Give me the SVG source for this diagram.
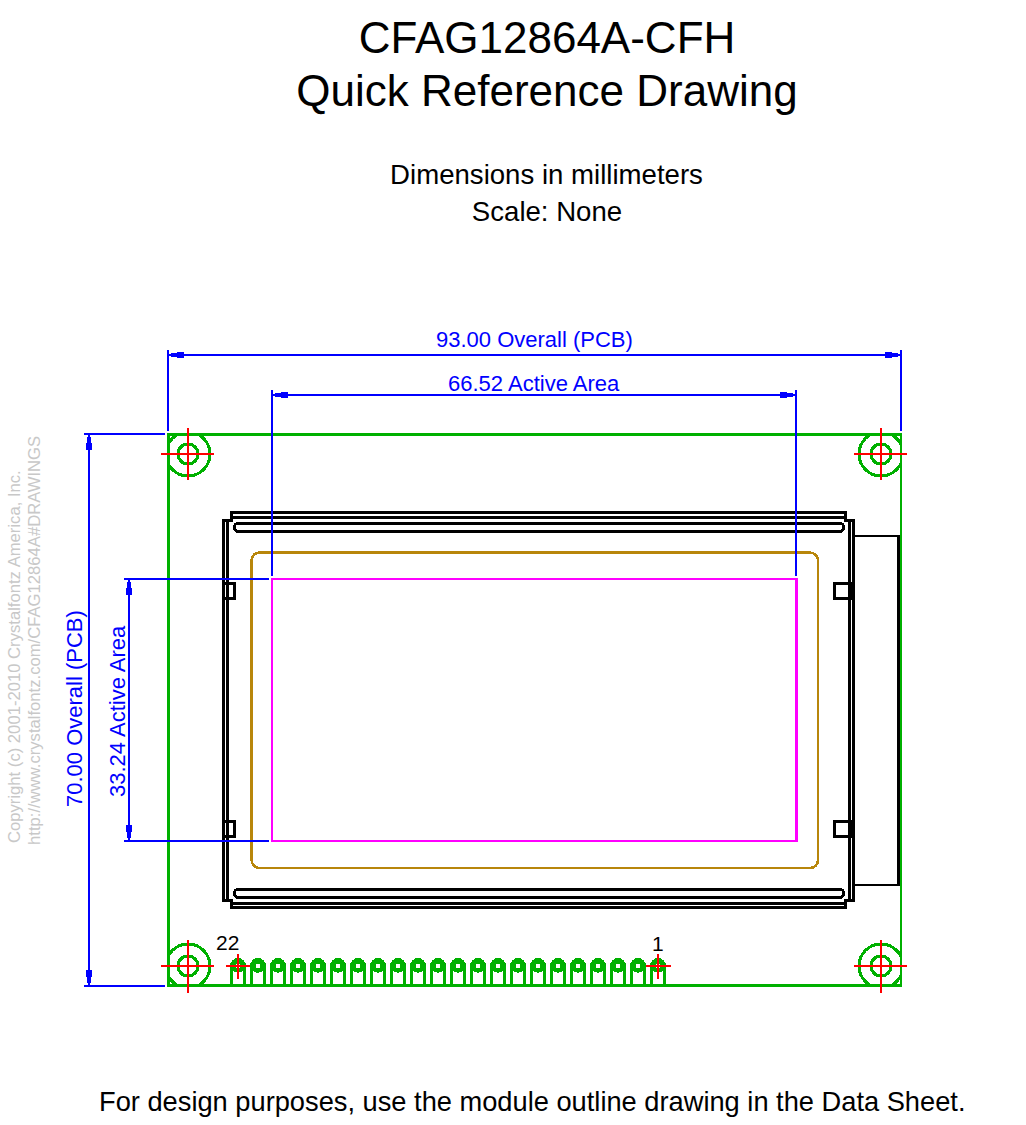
<svg xmlns="http://www.w3.org/2000/svg" width="1026" height="1125" viewBox="0 0 1026 1125">
<style>
text{font-family:"Liberation Sans",Arial,sans-serif;fill:#000}
path,rect,circle,polygon{shape-rendering:crispEdges}
.title{font-size:44px;text-anchor:middle}
.sub{font-size:27.600px;text-anchor:middle}
.dim{font-size:22px;fill:#00f}
.wm{font-size:16.650px;fill:#c8c8c8}
.pin{font-size:21px}
.k{fill:none;stroke:#000;stroke-width:3}
.t{fill:none;stroke:#000;stroke-width:2.500}
.g{fill:none;stroke:#00b000;stroke-width:3}
.r{stroke:#f00;stroke-width:2;fill:none}
.b{stroke:#00f;stroke-width:2;fill:none}
.ring{fill:none;stroke:#00b000;stroke-width:4.500}
</style>
<defs>
<marker id="arrow" markerUnits="userSpaceOnUse" markerWidth="20" markerHeight="10" refX="0" refY="0" orient="auto-start-reverse" viewBox="-20 -5 20 10"><polygon points="-3,-2 -9,-2 -9,-3 -16,-3 -16,3 -9,3 -9,2 -3,2" fill="#00f"/></marker>
<clipPath id="pcb"><rect x="168" y="434" width="733" height="552"/></clipPath>
<g id="hole"><circle cx="0" cy="0" r="10" class="g"/><circle cx="0" cy="0" r="22" class="g"/></g>
<path id="cross" d="M-27,0H26M0,-26V26" class="r"/>
<path id="cross-low" d="M-27,0H26M0,-26V27" class="r"/>
<g id="pad"><path d="M-6.500,19V0A6.500,6.500 0 0 1 6.500,0V19" class="g"/><circle cx="0" cy="0" r="4.500" class="ring"/></g>
</defs>
<g id="title">
<text class="title" x="547" y="53">CFAG12864A-CFH</text>
<text class="title" x="547" y="105.500">Quick Reference Drawing</text>
<text class="sub" x="546.500" y="184">Dimensions in millimeters</text>
<text class="sub" x="547" y="221">Scale: None</text>
</g>
<g id="pcb-outline">
<g clip-path="url(#pcb)">
<use href="#hole" x="188" y="454"/><use href="#hole" x="881" y="454"/><use href="#hole" x="188" y="966"/><use href="#hole" x="881" y="966"/>
</g>
<path class="g" style="stroke-width:2.500" d="M168.500,434.500H901V985.500H168.500Z"/>
</g>
<g id="pins">
<use href="#pad" x="238" y="966"/><use href="#pad" x="258" y="966"/><use href="#pad" x="278" y="966"/><use href="#pad" x="298" y="966"/><use href="#pad" x="318" y="966"/><use href="#pad" x="338" y="966"/><use href="#pad" x="358" y="966"/><use href="#pad" x="378" y="966"/><use href="#pad" x="398" y="966"/><use href="#pad" x="418" y="966"/><use href="#pad" x="438" y="966"/><use href="#pad" x="458" y="966"/><use href="#pad" x="478" y="966"/><use href="#pad" x="498" y="966"/><use href="#pad" x="518" y="966"/><use href="#pad" x="538" y="966"/><use href="#pad" x="558" y="966"/><use href="#pad" x="578" y="966"/><use href="#pad" x="598" y="966"/><use href="#pad" x="618" y="966"/><use href="#pad" x="638" y="966"/><use href="#pad" x="658" y="966"/>
<text class="pin" x="216" y="950">22</text>
<text class="pin" x="652" y="951">1</text>
</g>
<g id="lcd-module">
<path class="k" d="M223.500,520.500H231V512.500H845.500V520.500H853.500V900H845.500V907.500H231V900H223.500Z"/>
<path class="k" d="M231,517.500H845.500M231,903.500H845.500M227.500,520.500V900M849.500,520.500V900" style="stroke-width:2.500"/>
<rect class="k" x="234.500" y="523" width="609" height="8.500" rx="4.200"/>
<rect class="k" x="234.500" y="889" width="609" height="8.500" rx="4.200"/>
<rect class="t" x="224" y="583.500" width="10.500" height="15"/>
<rect class="t" x="224" y="821.500" width="10.500" height="15"/>
<rect class="k" x="834.500" y="583.500" width="17" height="15"/>
<rect class="k" x="834.500" y="821.500" width="17" height="15"/>
<rect class="t" x="853.500" y="536" width="45" height="349"/>
<rect x="251.500" y="552.500" width="566.500" height="315.500" rx="8" fill="none" stroke="#b8860b" stroke-width="2.500"/>
<rect x="272" y="579" width="524.500" height="262" fill="none" stroke="#f0f" stroke-width="2.500"/>
</g>
<g id="crosshairs">
<use href="#cross" x="188" y="454"/><use href="#cross" x="881" y="454"/><use href="#cross-low" x="188" y="966"/><use href="#cross-low" x="881" y="966"/>
<path class="r" d="M226,966H250M238,954V979M646,966H671M658,954V979"/>
</g>
<g id="connectors">
<path class="b" d="M168,350V431M901,350V431M272,390V576M796,390V576M84,434H165M84,985.500H165M124,579H269M124,841H269"/>
<path class="b" d="M168,355H901" marker-start="url(#arrow)" marker-end="url(#arrow)"/>
<path class="b" d="M272,395H796" marker-start="url(#arrow)" marker-end="url(#arrow)"/>
<path class="b" d="M89,434V985.500" marker-start="url(#arrow)" marker-end="url(#arrow)"/>
<path class="b" d="M129,579V841" marker-start="url(#arrow)" marker-end="url(#arrow)"/>
</g>
<g id="dimension-labels">
<text class="dim" x="436" y="347">93.00 Overall (PCB)</text>
<text class="dim" x="448" y="391">66.52 Active Area</text>
<text class="dim" transform="translate(82,807) rotate(-90)">70.00 Overall (PCB)</text>
<text class="dim" transform="translate(125,797) rotate(-90)">33.24 Active Area</text>
</g>
<g id="watermark">
<text class="wm" transform="translate(20,843) rotate(-90)">Copyright (c) 2001-2010 Crystalfontz America, Inc.</text>
<text class="wm" transform="translate(40,845) rotate(-90)">http://www.crystalfontz.com/CFAG12864A#DRAWINGS</text>
</g>
<g id="footer">
<text x="99" y="1111" style="font-size:27.250px">For design purposes, use the module outline drawing in the Data Sheet.</text>
</g>
</svg>
